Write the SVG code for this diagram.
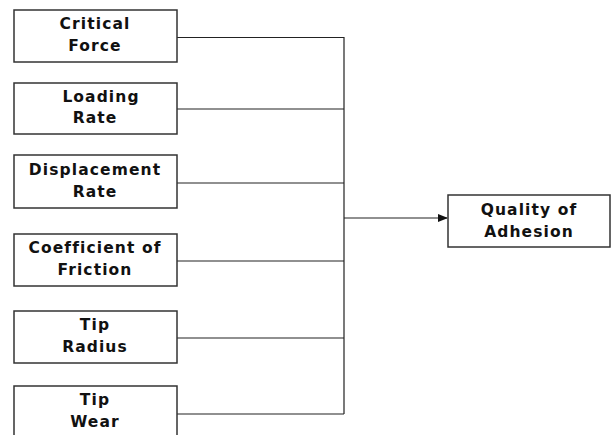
<svg xmlns="http://www.w3.org/2000/svg" width="616" height="435" viewBox="0 0 616 435">
<style>
.box{fill:#fff;stroke:#333;stroke-width:1.5}
.t{font-family:"DejaVu Sans",sans-serif;font-weight:bold;font-size:15.5px;letter-spacing:1.1px;fill:#111;text-anchor:middle}
.c{fill:none;stroke:#222;stroke-width:1.2}
</style>
<defs>
<marker id="ah" markerWidth="10" markerHeight="8" refX="9" refY="4" orient="auto" markerUnits="userSpaceOnUse">
<path d="M0,0 L10,4 L0,8 Z" fill="#111"/>
</marker>
</defs>
<rect width="616" height="435" fill="#fff"/>
<g id="connectors">
<path class="c" d="M177,37.5 H344 M177,109 H344 M177,183 H344 M177,261 H344 M177,338 H344 M177,414 H344 M344,37 V414"/>
<path class="c" d="M344,218 H447" marker-end="url(#ah)"/>
</g>
<g id="n1"><rect class="box" x="14" y="10" width="163" height="52"/><text class="t" x="95" y="29">Critical</text><text class="t" x="95" y="51">Force</text></g>
<g id="n2"><rect class="box" x="14" y="83" width="163" height="51"/><text class="t" x="101" y="102">Loading</text><text class="t" x="95" y="123">Rate</text></g>
<g id="n3"><rect class="box" x="14" y="155" width="163" height="53"/><text class="t" x="95" y="175">Displacement</text><text class="t" x="95" y="197">Rate</text></g>
<g id="n4"><rect class="box" x="14" y="234" width="163" height="52"/><text class="t" x="95" y="253">Coefficient of</text><text class="t" x="95" y="275">Friction</text></g>
<g id="n5"><rect class="box" x="14" y="311" width="163" height="52"/><text class="t" x="95" y="330">Tip</text><text class="t" x="95" y="352">Radius</text></g>
<g id="n6"><rect class="box" x="14" y="386" width="163" height="60"/><text class="t" x="95" y="405">Tip</text><text class="t" x="95" y="427">Wear</text></g>
<g id="n7"><rect class="box" x="448" y="195" width="162" height="52"/><text class="t" x="529" y="215">Quality of</text><text class="t" x="529" y="237">Adhesion</text></g>
</svg>
